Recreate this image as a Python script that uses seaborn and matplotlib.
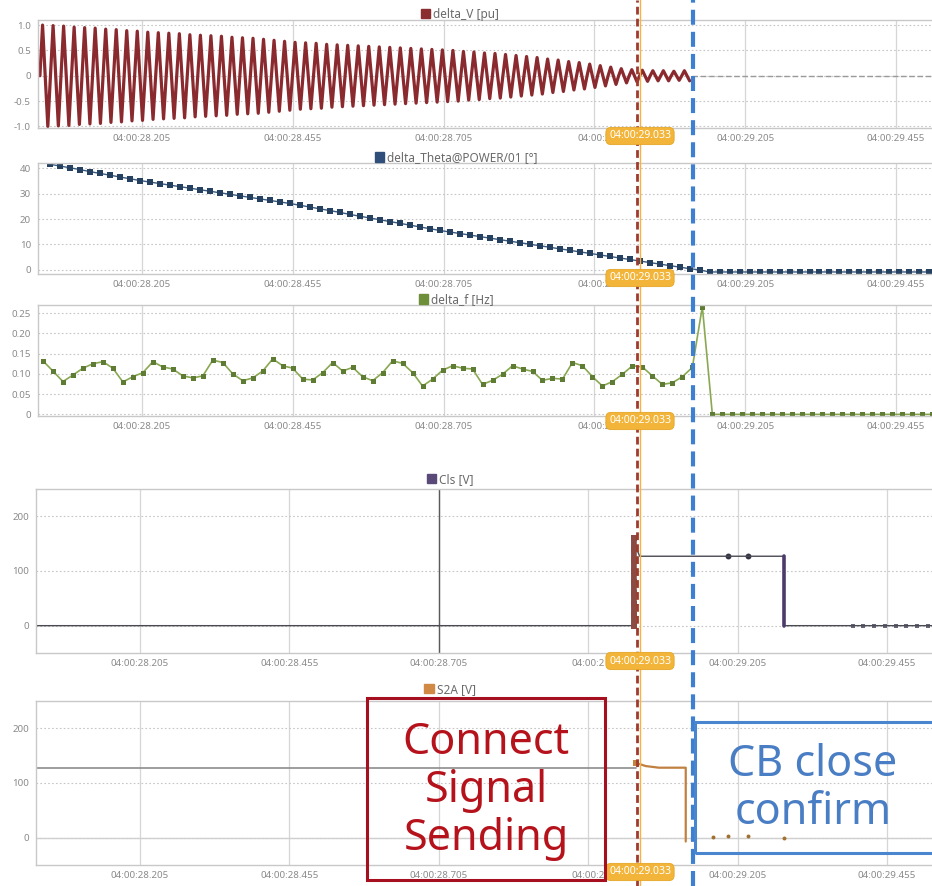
import numpy as np
import matplotlib.pyplot as plt
import seaborn as sns
from matplotlib.lines import Line2D
from matplotlib.patches import Rectangle, Patch

sns.set_style('white')
plt.rcParams['font.family'] = ['Noto Sans', 'DejaVu Sans']
#
# Time axis: seconds after 04:00:28 (the 28.955 label is mostly hidden by the cursor tag)
tick_pos = [0.205, 0.455, 0.705, 0.955, 1.205, 1.455]
tick_lbl = ['04:00:28.205', '04:00:28.455', '04:00:28.705',
            '04:00:2', '04:00:29.205', '04:00:29.455']
cursor_lbl = '04:00:29.033'
#
# delta_V [pu]: peak amplitude of each oscillation cycle
v_amp = [1.00, 0.99, 0.98, 0.96, 0.95, 0.94, 0.92, 0.91, 0.89, 0.88,
         0.86, 0.85, 0.84, 0.83, 0.81, 0.80, 0.79, 0.78, 0.76, 0.75,
         0.74, 0.72, 0.70, 0.68, 0.66, 0.65, 0.64, 0.62, 0.61, 0.60,
         0.59, 0.58, 0.57, 0.56, 0.55, 0.54, 0.53, 0.52, 0.51, 0.50,
         0.48, 0.47, 0.45, 0.44, 0.42, 0.40, 0.38, 0.36, 0.33, 0.31,
         0.28, 0.26, 0.23, 0.20, 0.17, 0.14, 0.12, 0.11, 0.10, 0.10,
         0.09, 0.10]
v_start, v_period = 0.036, 0.01744
v_tail_t = [1.117, 1.515]
v_tail = [0.0, 0.0]
#
# delta_Theta@POWER/01 [deg], one sample every 1/60 s
theta = [41.5, 40.8, 40.1, 39.4, 38.6, 37.9, 37.2, 36.5, 35.8, 35.1,
         34.5, 33.9, 33.3, 32.7, 32.1, 31.5, 30.9, 30.3, 29.7, 29.1,
         28.5, 27.9, 27.3, 26.7, 26.1, 25.4, 24.7, 24.0, 23.3, 22.6,
         21.8, 21.1, 20.4, 19.7, 19.0, 18.3, 17.6, 16.9, 16.2, 15.5,
         14.9, 14.3, 13.7, 13.1, 12.5, 11.9, 11.3, 10.7, 10.1, 9.5,
         8.9, 8.3, 7.7, 7.1, 6.5, 5.9, 5.3, 4.7, 4.1, 3.5,
         2.9, 2.3, 1.7, 1.1, 0.5, 0.0,
         -0.8, -0.8, -0.8, -0.8, -0.8, -0.8, -0.8, -0.8, -0.8, -0.8,
         -0.8, -0.8, -0.8, -0.8, -0.8, -0.8, -0.8, -0.8, -0.8, -0.8,
         -0.8, -0.8, -0.8]
theta_start = 0.053
#
# delta_f [Hz]
freq = [0.132, 0.107, 0.081, 0.097, 0.114, 0.125, 0.130, 0.114, 0.080, 0.093,
        0.103, 0.130, 0.117, 0.112, 0.095, 0.090, 0.095, 0.134, 0.128, 0.100,
        0.083, 0.090, 0.107, 0.137, 0.120, 0.114, 0.087, 0.085, 0.103, 0.128,
        0.107, 0.116, 0.093, 0.083, 0.103, 0.132, 0.126, 0.103, 0.070, 0.087,
        0.109, 0.120, 0.114, 0.112, 0.074, 0.084, 0.099, 0.120, 0.112, 0.106,
        0.084, 0.089, 0.087, 0.128, 0.120, 0.093, 0.070, 0.081, 0.099, 0.120,
        0.117, 0.095, 0.074, 0.078, 0.093, 0.116, 0.266,
        0.0, 0.0, 0.0, 0.0, 0.0, 0.0, 0.0, 0.0, 0.0, 0.0,
        0.0, 0.0, 0.0, 0.0, 0.0, 0.0, 0.0, 0.0, 0.0, 0.0,
        0.0, 0.0, 0.0]
freq_start = 0.041
sample_step = 0.01656
#
# Cls [V]
cls_t = [0.031, 1.028, 1.028, 1.041, 1.188, 1.223, 1.282, 1.282, 1.530]
cls_v = [0, 0, 160, 127, 127, 127, 127, 0, 0]
cls_burst_t = [1.031, 1.031, 1.031, 1.031, 1.031, 1.031, 1.031, 1.031, 1.031]
cls_burst_v = [0, 20, 40, 60, 80, 100, 120, 140, 160]
cls_dot_t = [1.188, 1.223]
cls_dot_v = [127, 127]
cls_drop_t = [1.282, 1.282]
cls_drop_v = [127, 0]
cls_end_t = [1.397, 1.415, 1.433, 1.451, 1.469, 1.487, 1.505, 1.523]
cls_end_v = [0, 0, 0, 0, 0, 0, 0, 0]
#
# S2A [V]
s2a_hold_t = [0.031, 1.034]
s2a_hold_v = [128, 128]
s2a_t = [1.034, 1.051, 1.073, 1.118, 1.118]
s2a_v = [137, 131, 128, 128, -7]
s2a_dot_t = [1.163, 1.188, 1.223, 1.282]
s2a_dot_v = [1, 3, 3, 0]
#
# Build the sample tables
v_y = np.column_stack([np.zeros(len(v_amp)), v_amp,
                       np.zeros(len(v_amp)), -np.array(v_amp)]).ravel()
v_x = v_start + np.arange(len(v_y)) * v_period / 4
theta_x = theta_start + np.arange(len(theta)) * sample_step
freq_x = freq_start + np.arange(len(freq)) * sample_step
#
# Figure and panels (positions from the screenshot)
W, H = 932, 886
fig = plt.figure(figsize=(W / 100, H / 100), dpi=100)


def panel(left, top, bottom):
    return fig.add_axes([left / W, 1 - bottom / H, 1 - left / W, (bottom - top) / H])


ax1 = panel(38, 20, 128)
ax2 = panel(38, 163, 274)
ax3 = panel(38, 305, 416)
ax4 = panel(36, 489, 653)
ax5 = panel(36, 701, 865)


def style(ax, xlim, ylim, yticks, ylabels, title, tcolor, tx, ty=0.99):
    ax.set_xlim(xlim)
    ax.set_ylim(ylim)
    ax.set_xticks(tick_pos, tick_lbl)
    ax.set_yticks(yticks, ylabels)
    ax.tick_params(axis='x', length=0, labelsize=7, labelcolor='#8a8a8a', pad=4)
    ax.tick_params(axis='y', length=3, width=0.6, color='#bbbbbb',
                   labelsize=7, labelcolor='#8a8a8a', pad=2)
    ax.grid(axis='x', color='#d6d6d6', lw=0.9, ls='-')
    ax.grid(axis='y', color='#c6c6c6', lw=0.8, ls=(0, (1.5, 2)))
    for s in ax.spines.values():
        s.set_color('#c8c8c8')
        s.set_linewidth(1.0)
    ax.spines['right'].set_visible(False)
    ax.set_xlabel('')
    ax.set_ylabel('')
    ax.legend(handles=[Patch(facecolor=tcolor, edgecolor=tcolor)], labels=[title],
              loc='lower center', bbox_to_anchor=(tx, ty), frameon=False,
              handlelength=0.8, handleheight=0.8, handletextpad=0.25,
              fontsize=8.5, labelcolor='#6a6a6a', borderpad=0, borderaxespad=0)


# delta_V
sns.lineplot(x=v_x, y=v_y, ax=ax1, color='#8a2a2e', lw=2.3,
             estimator=None, sort=False)
sns.lineplot(x=v_tail_t, y=v_tail, ax=ax1, color='#9a9a9a', lw=1.0,
             ls=(0, (4, 2)), estimator=None, sort=False)
style(ax1, (0.0328, 1.5146), (-1.03, 1.1), [-1, -0.5, 0, 0.5, 1],
      ['-1.0', '-0.5', '0', '0.5', '1.0'], 'delta_V [pu]', '#8b2e30', 0.472)
#
# delta_Theta
sns.lineplot(x=theta_x, y=theta, ax=ax2, color='#3a5a80', lw=1.0,
             marker='s', markersize=4, markerfacecolor='#26405f',
             markeredgewidth=0, estimator=None, sort=False)
style(ax2, (0.0328, 1.5146), (-1.6, 42), [0, 10, 20, 30, 40],
      ['0', '10', '20', '30', '40'], 'delta_Theta@POWER/01 [°]', '#2f4f7a', 0.468)
#
# delta_f
sns.lineplot(x=freq_x, y=freq, ax=ax3, color='#8aa852', lw=1.2,
             marker='s', markersize=3.6, markerfacecolor='#5e7c34',
             markeredgewidth=0, estimator=None, sort=False)
style(ax3, (0.0328, 1.5146), (-0.004, 0.27), [0, 0.05, 0.10, 0.15, 0.20, 0.25],
      ['0', '0.05', '0.10', '0.15', '0.20', '0.25'], 'delta_f [Hz]', '#6e8e3a', 0.468)
#
# Cls
ax4.axvline(0.705, color='#5a5a5a', lw=1.0, zorder=1)
sns.lineplot(x=cls_t, y=cls_v, ax=ax4, color='#4a4a52', lw=1.0,
             estimator=None, sort=False)
sns.lineplot(x=cls_burst_t, y=cls_burst_v, ax=ax4, color='#8b4a42', lw=4,
             marker='s', markersize=4, markeredgewidth=0, estimator=None, sort=False)
sns.lineplot(x=cls_drop_t, y=cls_drop_v, ax=ax4, color='#4b3a6b', lw=2.6,
             estimator=None, sort=False)
sns.scatterplot(x=cls_dot_t, y=cls_dot_v, ax=ax4, color='#333344', s=18, linewidth=0)
sns.scatterplot(x=cls_end_t, y=cls_end_v, ax=ax4, color='#666677', s=6,
                marker='s', linewidth=0)
style(ax4, (0.031, 1.530), (-50, 250), [0, 100, 200], ['0', '100', '200'],
      'Cls [V]', '#5a4a7a', 0.462, 1.02)
#
# S2A
ax5.axhline(0, color='#cfcfcf', lw=1.0, zorder=1)
sns.lineplot(x=s2a_hold_t, y=s2a_hold_v, ax=ax5, color='#8c8c8c', lw=1.2,
             estimator=None, sort=False)
sns.lineplot(x=s2a_t, y=s2a_v, ax=ax5, color='#c08040', lw=1.6,
             estimator=None, sort=False)
sns.scatterplot(x=[s2a_t[0]], y=[s2a_v[0]], ax=ax5, color='#c8843a', s=22,
                marker='s', linewidth=0)
sns.scatterplot(x=s2a_dot_t, y=s2a_dot_v, ax=ax5, color='#a07030', s=8, linewidth=0)
style(ax5, (0.031, 1.530), (-50, 250), [0, 100, 200], ['0', '100', '200'],
      'S2A [V]', '#d08a45', 0.462, 1.03)
#
# Cursor lines across the whole figure
fig.add_artist(Line2D([640 / W, 640 / W], [0, 1], transform=fig.transFigure,
                      color='#f3b24a', lw=1.0, zorder=5))
fig.add_artist(Line2D([637 / W, 637 / W], [0, 1], transform=fig.transFigure,
                      color='#9e3b2e', lw=2.0, dashes=(2.8, 1.5), zorder=6))
fig.add_artist(Line2D([693 / W, 693 / W], [0, 1], transform=fig.transFigure,
                      color='#3d7fd0', lw=3.0, dashes=(3.6, 1.7), zorder=6))
#
# Yellow cursor time labels
for y in [136, 278, 421, 661, 872]:
    fig.text(640 / W, 1 - y / H, cursor_lbl, ha='center', va='center',
             fontsize=7.5, color='white', zorder=7,
             bbox=dict(boxstyle='round,pad=0.3,rounding_size=0.5',
                       fc='#f2b53a', ec='#e5a624', lw=0.6))
#
# Annotation boxes
fig.add_artist(Rectangle((367 / W, 1 - 880 / H), 238 / W, 182 / H,
                         transform=fig.transFigure, fill=False,
                         ec='#a50f1f', lw=2.2, zorder=8))
fig.text(486 / W, 1 - 791 / H, 'Connect\nSignal\nSending', ha='center',
         va='center', fontsize=31, color='#b5121b', linespacing=1.12, zorder=9)
fig.add_artist(Rectangle((695 / W, 1 - 853 / H), 0.3, 131 / H,
                         transform=fig.transFigure, fill=False,
                         ec='#4a86cf', lw=2.2, zorder=8))
fig.text(813 / W, 1 - 789 / H, 'CB close\nconfirm', ha='center',
         va='center', fontsize=31, color='#4a7ec4', linespacing=1.12, zorder=9)
#
# Save it:
fig.savefig('out.png', dpi=100)
